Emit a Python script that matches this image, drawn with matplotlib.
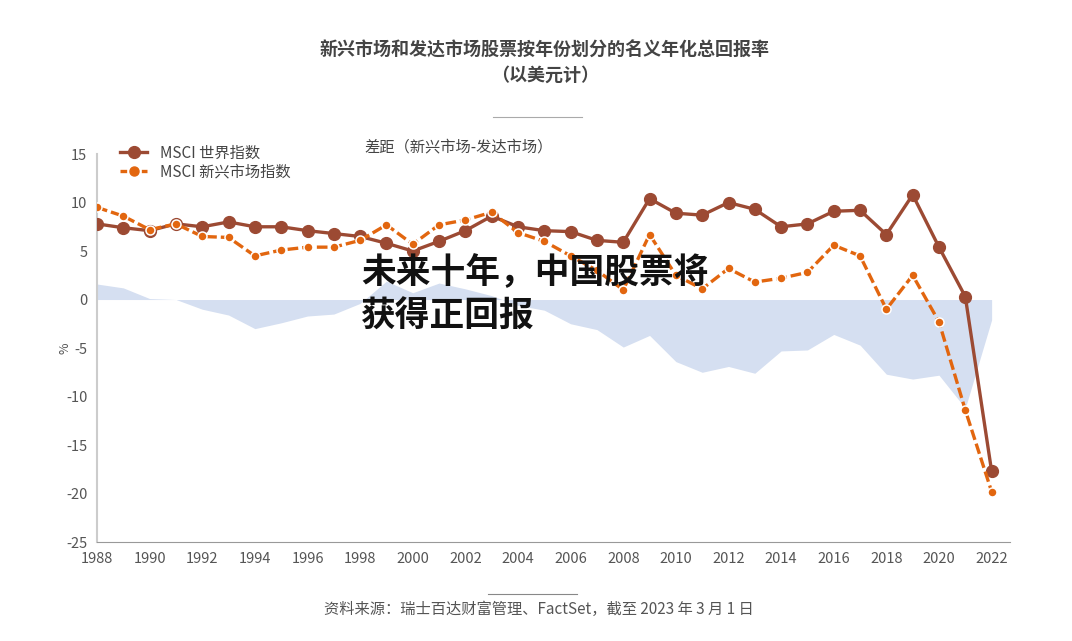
import matplotlib.pyplot as plt
from matplotlib.lines import Line2D

plt.rcParams['font.family'] = ['Noto Sans CJK SC', 'DejaVu Sans']
plt.rcParams['axes.unicode_minus'] = False

years = list(range(1988, 2023))

world = [7.8, 7.4, 7.1, 7.8, 7.5, 8.0, 7.5, 7.5, 7.1, 6.8,
         6.5, 5.8, 5.0, 6.0, 7.1, 8.6, 7.5, 7.1, 7.0, 6.1,
         5.9, 10.4, 8.9, 8.7, 10.0, 9.3, 7.5, 7.8, 9.1, 9.2,
         6.7, 10.8, 5.4, 0.3, -17.7]

em = [9.5, 8.6, 7.2, 7.8, 6.5, 6.4, 4.5, 5.1, 5.4, 5.4,
      6.1, 7.7, 5.7, 7.7, 8.2, 9.0, 6.9, 6.0, 4.5, 3.0,
      1.0, 6.7, 2.5, 1.1, 3.2, 1.8, 2.2, 2.8, 5.6, 4.5,
      -1.0, 2.5, -2.3, -11.4, -19.8]

gap = [1.6, 1.2, 0.1, 0.0, -1.0, -1.6, -3.0, -2.4, -1.7, -1.5,
       -0.4, 1.9, 0.7, 1.7, 1.1, 0.4, -0.6, -1.1, -2.5, -3.1,
       -4.9, -3.7, -6.4, -7.5, -6.9, -7.6, -5.3, -5.2, -3.6, -4.7,
       -7.7, -8.2, -7.8, -11.2, -2.1]

world_label = 'MSCI 世界指数'
em_label = 'MSCI 新兴市场指数'
gap_label = '差距（新兴市场-发达市场）'

c_world = '#9c4a33'
c_em = '#e2660f'
c_fill = '#d5dff1'
c_grey = '#555555'

fig = plt.figure(figsize=(10.72, 6.41), dpi=100)
ax = fig.add_axes([0.0905, 0.1544, 0.8517, 0.6053])

ax.fill_between(years, gap, 0, color=c_fill, linewidth=0, zorder=1)
ax.plot(years, world, color=c_world, lw=2.4, marker='o', ms=8.5,
        mec=c_world, zorder=3)
ax.plot(years, em, color=c_em, lw=2.4, ls=(0, (3.2, 1.2)), marker='o', ms=6.5,
        mec='white', mew=1.1, zorder=4)

ax.set_xlim(1988, 2022.7)
ax.set_ylim(-25, 15)
ax.set_xticks(range(1988, 2023, 2))
ax.set_yticks(range(-25, 16, 5))
ax.tick_params(length=0, labelsize=10.5, colors=c_grey, pad=7)
for s in ['top', 'right']:
    ax.spines[s].set_visible(False)
ax.spines['left'].set_color('#cccccc')
ax.spines['bottom'].set_color('#999999')
ax.spines['left'].set_linewidth(1.5)
ax.set_ylabel('%', color=c_grey, fontsize=9, labelpad=-4)

handles = [Line2D([], [], color=c_world, lw=2.4, marker='o', ms=8.5),
           Line2D([], [], color=c_em, lw=2.4, ls=(0, (2, 1.2)), marker='o', ms=6.5)]
ax.legend(handles, [world_label, em_label], loc='upper left',
          bbox_to_anchor=(0.01, 1.06), frameon=False, fontsize=11,
          labelcolor='#444444', handlelength=1.8, handletextpad=0.8,
          labelspacing=0.12)
ax.text(0.293, 1.018, gap_label, transform=ax.transAxes, fontsize=11,
        color='#444444', ha='left', va='center')

fig.text(0.508, 0.922, '新兴市场和发达市场股票按年份划分的名义年化总回报率',
         ha='center', va='center', fontsize=13, color='#444444', weight='bold')
fig.text(0.508, 0.882, '（以美元计）', ha='center', va='center', fontsize=13,
         color='#444444', weight='bold')
fig.add_artist(Line2D([0.46, 0.543], [0.817, 0.817], color='#aaaaaa', lw=0.8))
fig.add_artist(Line2D([0.455, 0.538], [0.073, 0.073], color='#888888', lw=0.8))
fig.text(0.503, 0.049, '资料来源：瑞士百达财富管理、FactSet，截至 2023 年 3 月 1 日',
         ha='center', va='center', fontsize=11, color='#555555')

ax.text(1998.05, 0.55, '未来十年，中国股票将\n获得正回报', fontsize=25,
        weight='heavy', color='#111111', ha='left', va='center',
        linespacing=1.3, zorder=6)

fig.savefig('out.png', dpi=100, facecolor='white')
